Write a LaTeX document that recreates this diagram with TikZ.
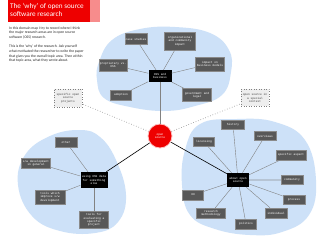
\documentclass[tikz,border=0pt]{standalone}
\usepackage{fontspec}
\setmainfont{Carlito}
\newfontfamily\boxfont{Liberation Mono}
\definecolor{blobblue}{RGB}{205,225,248}
\definecolor{boxgray}{RGB}{88,88,88}
\definecolor{linegray}{RGB}{130,130,130}
\definecolor{titlered}{RGB}{238,0,0}
\definecolor{dashfill}{RGB}{238,238,238}
\begin{document}
\begin{tikzpicture}[x=1pt,y=-1pt,
  blob/.style={fill=blobblue,draw=none},
  gbox/.style={fill=boxgray,draw=boxgray!70!white,line width=0.3pt,text=white,
    font=\boxfont\fontsize{2.9}{3.3}\selectfont,align=center,inner sep=0.5pt},
  cbox/.style={fill=black,draw=none,text=white,
    font=\boxfont\fontsize{2.9}{3.3}\selectfont,align=center,inner sep=0.5pt},
  dbox/.style={fill=dashfill,draw=gray,dotted,line width=0.5pt,text=black!75,
    font=\boxfont\fontsize{2.9}{3.3}\selectfont,align=center,inner sep=0.5pt},
  conn/.style={draw=linegray,line width=0.4pt},
  dconn/.style={draw=gray,dotted,line width=0.6pt},
  bconn/.style={draw=black,line width=0.6pt}
]
\useasboundingbox (0,0) rectangle (320,240);
\fill[white] (0,0) rectangle (320,240);
% title
\fill[titlered] (8,0) rectangle (90,22);
\fill[titlered!45] (90,0) rectangle (100,22);
\node[anchor=north west,inner sep=0pt,text=white,align=left,
  font=\fontsize{7.2}{8.6}\selectfont] (title) at (10,3)
  {The `why' of open source\\software research};
\node[anchor=north west,inner sep=0pt,align=left,text=black!85,
  font=\fontsize{3.7}{4.7}\selectfont] (p1) at (9,26.5)
  {In this domain map I try to record where I think\\the major research areas are in open source\\software (OSS) research.};
\node[anchor=north west,inner sep=0pt,align=left,text=black!85,
  font=\fontsize{3.7}{4.7}\selectfont] (p2) at (9,45)
  {This is the `why' of the research. Ask yourself\\what motivated the researcher to write the paper\\that gives you the overall topic area. Then within\\that topic area, what they wrote about.};
% blobs
\path[blob] plot[smooth cycle,tension=0.7] coordinates
  {(99,62) (112,40) (140,29) (175,27) (210,33) (229,50) (231,72) (222,95) (195,106) (165,111) (130,107) (104,98) (97,80)};
\path[blob] plot[smooth cycle,tension=0.7] coordinates
  {(80,130) (100,137) (116,160) (126,195) (118,222) (95,233) (60,231) (32,216) (18,185) (25,155) (50,136)};
\path[blob] plot[smooth cycle,tension=0.7] coordinates
  {(200,124) (237,119) (275,122) (305,140) (316,180) (309,215) (282,232) (250,235) (215,229) (190,215) (182,185) (185,150)};
% central circle
\node[circle,fill=titlered,draw=red!25,line width=0.8pt,minimum size=24pt,inner sep=0pt,
  text=white,align=center,font=\boxfont\fontsize{2.9}{3.3}\selectfont] (os) at (160,136) {open\\source};
% dashed boxes
\node[dbox,minimum width=28pt,minimum height=18pt] (sp) at (68,98) {specific open\\source\\projects};
\node[dbox,minimum width=28pt,minimum height=17pt] (sc) at (255,98) {open source in\\a special\\context};
% top cluster
\node[cbox,minimum width=23pt,minimum height=12pt] (ob) at (160,76) {OSS and\\business};
\node[gbox,minimum width=22pt,minimum height=11pt] (cs) at (136,39) {case studies};
\node[gbox,minimum width=31pt,minimum height=18pt] (oc) at (180,41) {organizational\\and community\\impact};
\node[gbox,minimum width=29pt,minimum height=14pt] (ib) at (210,64) {impact on\\business models};
\node[gbox,minimum width=28pt,minimum height=12pt] (pv) at (113,65) {proprietary vs.\\OSS};
\node[gbox,minimum width=21pt,minimum height=10pt] (ad) at (121,95) {adoption};
\node[gbox,minimum width=29pt,minimum height=13pt] (gl) at (197,95) {government and\\legal};
% left cluster
\node[cbox,minimum width=27pt,minimum height=16pt] (ud) at (94,180) {using OSS data\\for something\\else};
\node[gbox,minimum width=22pt,minimum height=10pt] (ot) at (66,142) {other};
\node[gbox,minimum width=29pt,minimum height=10pt] (sw) at (36,163) {s/w development\\in general};
\node[gbox,minimum width=30pt,minimum height=14pt] (tw) at (50,197) {tools which\\improve s/w\\development};
\node[gbox,minimum width=29pt,minimum height=17pt] (te) at (94,220) {tools for\\evaluating a\\specific\\project};
% right cluster
\node[cbox,minimum width=22pt,minimum height=14pt] (ao) at (238,180) {about open\\source};
\node[gbox,minimum width=23pt,minimum height=9pt] (hi) at (233,125) {history};
\node[gbox,minimum width=22pt,minimum height=9pt] (ov) at (265,136) {overviews};
\node[gbox,minimum width=21pt,minimum height=9pt] (li) at (204,142) {licensing};
\node[gbox,minimum width=30pt,minimum height=10pt] (sa) at (291,155) {specific aspect};
\node[gbox,minimum width=22pt,minimum height=9pt] (co) at (292,180) {community};
\node[gbox,minimum width=22pt,minimum height=9pt] (pr) at (294,200) {process};
\node[gbox,minimum width=22pt,minimum height=10pt] (ind) at (276,213) {individual};
\node[gbox,minimum width=21pt,minimum height=10pt] (po) at (246,224) {politics};
\node[gbox,minimum width=29pt,minimum height=10pt] (rm) at (211,213) {research\\methodology};
\node[gbox,minimum width=21pt,minimum height=10pt] (oo) at (193,195) {OO};
% connectors
\begin{scope}[on background layer/.style={}]
\end{scope}
\foreach \n in {cs,oc,ib,pv,ad,gl} \draw[conn] (ob) -- (\n);
\foreach \n in {ot,sw,tw,te} \draw[conn] (ud) -- (\n);
\foreach \n in {hi,ov,li,sa,pr,ind,po,rm,oo} \draw[conn] (ao) -- (\n);
\draw[draw=blobblue!70!gray,line width=1.2pt] (ao) -- (co);
\draw[draw=linegray,line width=0.9pt] (ob) -- (os);
\draw[bconn] (ud) -- (os);
\draw[bconn] (os) -- (ao);
\draw[dconn] (os) -- (sp);
\draw[dconn] (os) -- (sc);
\end{tikzpicture}
\end{document}
